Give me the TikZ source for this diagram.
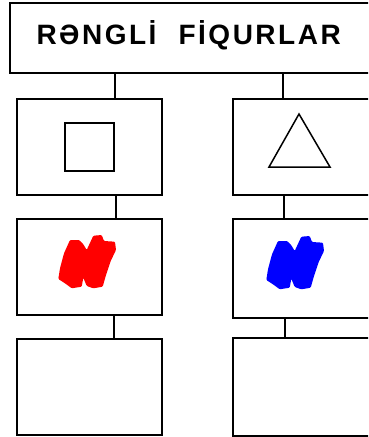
\documentclass[tikz,border=0pt]{standalone}
\usepackage{fontspec}
\setsansfont{Liberation Sans}
\usetikzlibrary{positioning,calc}
\tikzset{
  box/.style={draw=black,line width=2pt,minimum width=145pt,minimum height=96pt,inner sep=0pt,fill=white},
  link/.style={draw=black,line width=2pt},
  figline/.style={draw=black,line width=1.5pt},
}
% paint blot (rough stroke)
\newcommand{\blot}[2]{%
  \fill[#1,rounded corners=1pt,shift={#2}]
    (70,240) -- (79.3,240) -- (83.3,244.3) -- (86.7,250) -- (93.3,235.7) -- (101.7,235)
    -- (104,241) -- (115,241.7) -- (116,250) -- (110.7,261) -- (106,275) -- (102.7,286.7)
    -- (93.3,288.3) -- (86.7,286) -- (83.3,277.7) -- (81.7,286.7) -- (71.7,288.3)
    -- (65,283.3) -- (58.3,279) -- (60,268.3) -- (64,253.3) -- cycle;}
\begin{document}
\begin{tikzpicture}[x=1pt,y=-1pt]
  \useasboundingbox (0,0) rectangle (368,437);
  \clip (0,0) rectangle (368,437);
  % title
  \node[box,minimum width=362pt,minimum height=70pt] (titlebox) at (191,38) {};
  \node[font=\sffamily\bfseries\fontsize{28}{34}\selectfont\addfontfeature{LetterSpace=9},
        inner sep=0pt,anchor=base west] (titletext) at (36.3,44.3) {RƏNGLİ\hspace{22pt}FİQURLAR};
  % left column
  \node[box] (shapeL) at (89.5,147) {};
  \node[box] (colorL) at (89.5,267) {};
  \node[box] (emptyL) at (89.5,387) {};
  % right column
  \node[box] (shapeR) at (305.5,147) {};
  \node[box,minimum height=99pt] (colorR) at (305.5,268.5) {};
  \node[box,minimum height=98pt] (emptyR) at (305.5,387) {};
  % connectors
  \coordinate (jL1) at (115,0);
  \coordinate (jL2) at (116,0);
  \coordinate (jL3) at (114,0);
  \coordinate (jR1) at (283,0);
  \coordinate (jR2) at (284,0);
  \coordinate (jR3) at (285,0);
  \draw[link] (titlebox.south -| jL1) -- (shapeL.north -| jL1);
  \draw[link] (shapeL.south -| jL2) -- (colorL.north -| jL2);
  \draw[link] (colorL.south -| jL3) -- (emptyL.north -| jL3);
  \draw[link] (titlebox.south -| jR1) -- (shapeR.north -| jR1);
  \draw[link] (shapeR.south -| jR2) -- (colorR.north -| jR2);
  \draw[link] (colorR.south -| jR3) -- (emptyR.north -| jR3);
  % figures
  \node[figline,minimum width=49pt,minimum height=48pt,inner sep=0pt] (sq) at (89.5,147) {};
  \draw[figline,line join=miter] (299,114) -- (330,167) -- (269,167) -- cycle;
  \blot{red}{(0,0)}
  \blot{blue}{(208,1)}
\end{tikzpicture}
\end{document}
